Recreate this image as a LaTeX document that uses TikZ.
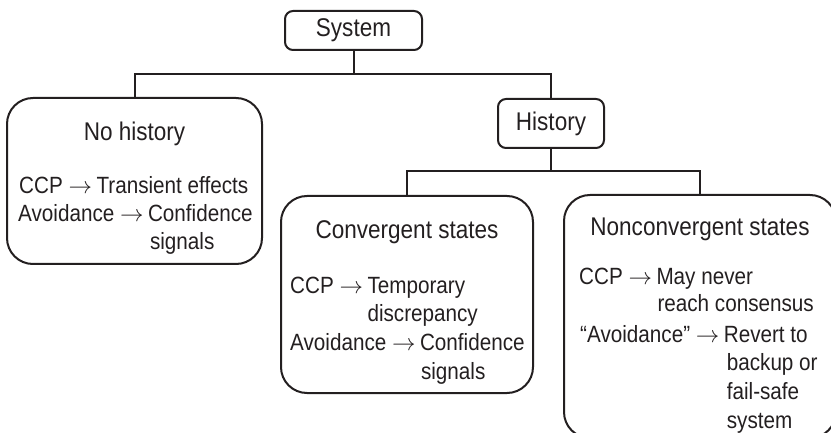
\RequirePackage{fix-cm}
\documentclass[tikz,border=0pt]{standalone}
\usepackage{fontspec}
\setmainfont{Liberation Sans}[FakeStretch=0.88]
\definecolor{ink}{HTML}{231F20}
\tikzset{
  bigbox/.style={draw=ink, line width=2pt, rounded corners=26pt, inner sep=0pt, outer sep=0pt},
  smallbox/.style={draw=ink, line width=2pt, rounded corners=8pt, inner sep=0pt, outer sep=0pt,
    text=ink, font=\fontsize{25.6}{30}\selectfont},
  title/.style={inner sep=0pt, anchor=base, text=ink, font=\fontsize{25.6}{30}\selectfont},
  body/.style={inner sep=0pt, anchor=base west, text=ink, font=\fontsize{23.5}{28}\selectfont},
  link/.style={draw=ink, line width=2pt},
}
\begin{document}
\begin{tikzpicture}[x=1pt, y=-1pt]
\useasboundingbox (0,0) rectangle (831,433);
\clip (0,0) rectangle (831,433);

% top of the tree
\node[smallbox, minimum width=137, minimum height=39] (sys) at (353.5,30.5) {System};
\node[smallbox, minimum width=106, minimum height=49] (hist) at (551,123.5) {History};

% leaf boxes
\node[bigbox, minimum width=255, minimum height=166] (nohist) at (134.5,181) {};
\node[bigbox, minimum width=252, minimum height=197] (conv) at (407,294.5) {};
\node[bigbox, minimum width=272, minimum height=243] (nonconv) at (700,316.5) {};

% connectors
\coordinate (bus1) at (353.5,74);
\coordinate (bus2) at (551,171);
\draw[link] (sys.south) -- (bus1);
\draw[link] (nohist.north) |- (bus1) -| (hist.north);
\draw[link] (hist.south) -- (bus2);
\draw[link] (conv.north) |- (bus2) -| (nonconv.north);

% No history
\node[title] (tnohist) at (134.5,141) {No history};
\node[body] (n1a) at (19,194) {CCP $\rightarrow$};
\node[body] (n1b) at ([xshift=4pt]n1a.base east) {Transient effects};
\node[body] (n2a) at (18,222) {Avoidance $\rightarrow$};
\node[body] (n2b) at ([xshift=4pt]n2a.base east) {Confidence};
\node[body] (n2c) at ([xshift=2pt,yshift=-28pt]n2b.base west) {signals};

% Convergent states
\node[title] (tconv) at (407,239) {Convergent states};
\node[body] (c1a) at (290,293) {CCP $\rightarrow$};
\node[body] (c1b) at ([xshift=4pt]c1a.base east) {Temporary};
\node[body] (c1c) at ([yshift=-28.5pt]c1b.base west) {discrepancy};
\node[body] (c2a) at (290,350.5) {Avoidance $\rightarrow$};
\node[body] (c2b) at ([xshift=4pt]c2a.base east) {Confidence};
\node[body] (c2c) at ([xshift=1pt,yshift=-28.5pt]c2b.base west) {signals};

% Nonconvergent states
\node[title] (tnonconv) at (700,236) {Nonconvergent states};
\node[body] (d1a) at (579,284) {CCP $\rightarrow$};
\node[body] (d1b) at ([xshift=4pt]d1a.base east) {May never};
\node[body] (d1c) at ([xshift=1pt,yshift=-28pt]d1b.base west) {reach consensus};
\node[body] (d2a) at (580,342) {“Avoidance” $\rightarrow$};
\node[body] (d2b) at ([xshift=4pt]d2a.base east) {Revert to};
\node[body] (d2c) at ([xshift=3pt,yshift=-28.7pt]d2b.base west) {backup or};
\node[body] (d2d) at ([yshift=-28.7pt]d2c.base west) {fail-safe};
\node[body] (d2e) at ([yshift=-28.7pt]d2d.base west) {system};
\end{tikzpicture}
\end{document}
